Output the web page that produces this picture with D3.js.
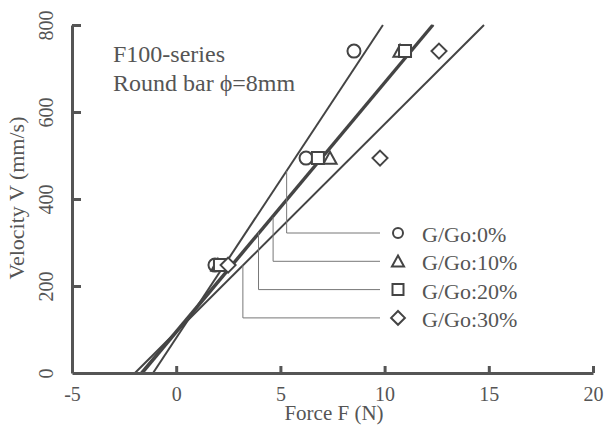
<!DOCTYPE html>
<html lang="en">
  <head>
    <meta charset="utf-8">
    <title>Velocity vs Force</title>
    <script src="https://d3js.org/d3.v7.min.js"></script>
    <style>
      body { margin: 0; background: #fff; }
      text { font-family: "Liberation Serif", "DejaVu Serif", serif; fill: #555; }
      .axis path, .axis line { stroke: #555; }
      .axis path { stroke-width: 3; }
      .axis line { stroke-width: 3; }
    </style>
  </head>
  <body>
    <script>
    // data
    let series = ["G/Go:0%", "G/Go:10%", "G/Go:20%", "G/Go:30%"];
    let shapes = ["circle", "triangle", "square", "diamond"];
    let velocity = [248, 494, 740];          // mm/s
    let force0  = [1.86, 6.23, 8.53];        // N
    let force10 = [2.00, 7.38, 10.74];
    let force20 = [2.10, 6.80, 10.98];
    let force30 = [2.49, 9.78, 12.61];
    // fitted lines: force at V=0 and at V=800
    let fitF0   = [-1.11, -1.60, -1.70, -1.98];
    let fitF800 = [9.92, 12.35, 12.28, 14.77];
    // where the leader lines leave the fitted lines
    let leaderF = [5.3, 4.65, 3.95, 3.2];
    let xTicks = [-5, 0, 5, 10, 15, 20];
    let yTicks = [0, 200, 400, 600, 800];

    let w = 611, h = 428;
    let forces = [force0, force10, force20, force30];

    let svg = d3.select("body").append("svg")
      .attr("width", w).attr("height", h);

    let xScale = d3.scaleLinear().domain([-5, 20]).range([72, 593]);
    let yScale = d3.scaleLinear().domain([0, 800]).range([373, 25]);

    // fitted lines
    let lineGen = d3.line().x(d => xScale(d[0])).y(d => yScale(d[1]));
    series.forEach((s, i) => {
      svg.append("path")
        .attr("d", lineGen([[fitF0[i], 0], [fitF800[i], 800]]))
        .attr("fill", "none")
        .attr("stroke", "#444")
        .attr("stroke-width", 2);
    });

    // legend + leaders
    let legX = 398, legY0 = 233, legStep = 28.3, leaderEnd = 380;
    function vOnFit(i, f) {
      return (f - fitF0[i]) / (fitF800[i] - fitF0[i]) * 800;
    }
    series.forEach((s, i) => {
      let ly = legY0 + i * legStep;
      let lx = xScale(leaderF[i]);
      svg.append("path")
        .attr("d", "M" + lx + "," + yScale(vOnFit(i, leaderF[i])) + "V" + ly + "H" + leaderEnd)
        .attr("fill", "none")
        .attr("stroke", "#777")
        .attr("stroke-width", 1);
    });

    function symbolPath(shape, s) {
      if (shape === "circle") {
        return "M" + s + ",0A" + s + "," + s + " 0 1,1 " + (-s) + ",0A" + s + "," + s + " 0 1,1 " + s + ",0Z";
      }
      if (shape === "square") {
        return "M" + (-s) + "," + (-s) + "H" + s + "V" + s + "H" + (-s) + "Z";
      }
      if (shape === "triangle") {
        return "M0," + (-s * 1.05) + "L" + (s * 1.1) + "," + (s * 0.95) + "H" + (-s * 1.1) + "Z";
      }
      // diamond
      let d = s * 1.25;
      return "M0," + (-d) + "L" + d + ",0L0," + d + "L" + (-d) + ",0Z";
    }

    // data points
    series.forEach((s, i) => {
      let size = shapes[i] === "circle" ? 6.5 : 6;
      svg.append("g").selectAll("path")
        .data(forces[i])
        .enter()
        .append("path")
        .attr("transform", (d, j) => "translate(" + xScale(d) + "," + yScale(velocity[j]) + ")")
        .attr("d", symbolPath(shapes[i], size))
        .attr("fill", "#fff")
        .attr("stroke", "#444")
        .attr("stroke-width", 2);
    });

    // legend symbols and labels
    series.forEach((s, i) => {
      let ly = legY0 + i * legStep;
      let size = shapes[i] === "circle" ? 5 : 5.5;
      svg.append("path")
        .attr("transform", "translate(" + legX + "," + ly + ")")
        .attr("d", symbolPath(shapes[i], size))
        .attr("fill", "#fff")
        .attr("stroke", "#444")
        .attr("stroke-width", 2);
      svg.append("text")
        .attr("x", 422)
        .attr("y", ly + 9)
        .attr("font-size", "22px")
        .text(s);
    });

    // x axis
    let xAxis = d3.axisBottom(xScale).tickValues(xTicks)
      .tickFormat(d => String(d))
      .tickSizeInner(-7).tickSizeOuter(0);
    let gx = svg.append("g")
      .attr("class", "axis")
      .attr("transform", "translate(0," + yScale(0) + ")")
      .call(xAxis);
    gx.selectAll("text")
      .attr("y", 28).attr("dy", 0)
      .attr("font-size", "20px")
      .attr("font-family", "Liberation Serif, serif")
      .attr("fill", "#555");
    gx.selectAll(".tick").filter(d => d === -5).select("line").remove();

    // y axis
    let yAxis = d3.axisLeft(yScale).tickValues(yTicks)
      .tickFormat(d => String(d))
      .tickSizeInner(-9).tickSizeOuter(0);
    let gy = svg.append("g")
      .attr("class", "axis")
      .attr("transform", "translate(" + xScale(-5) + ",0)")
      .call(yAxis);
    gy.selectAll("text")
      .attr("x", 0).attr("y", 0).attr("dy", 0)
      .attr("text-anchor", "middle")
      .attr("transform", "translate(-19,0) rotate(-90)")
      .attr("font-size", "20px")
      .attr("font-family", "Liberation Serif, serif")
      .attr("fill", "#555");
    gy.selectAll(".tick").filter(d => d === 0).select("line").remove();

    // axis titles
    svg.append("text")
      .attr("x", 334).attr("y", 420)
      .attr("text-anchor", "middle")
      .attr("font-size", "21px")
      .text("Force F (N)");
    svg.append("text")
      .attr("transform", "translate(24,198) rotate(-90)")
      .attr("text-anchor", "middle")
      .attr("font-size", "22px")
      .text("Velocity V (mm/s)");

    // annotation
    svg.append("text").attr("x", 113).attr("y", 62)
      .attr("font-size", "24px").text("F100-series");
    svg.append("text").attr("x", 113).attr("y", 91)
      .attr("font-size", "24px").text("Round bar ϕ=8mm");
    </script>
  </body>
</html>
